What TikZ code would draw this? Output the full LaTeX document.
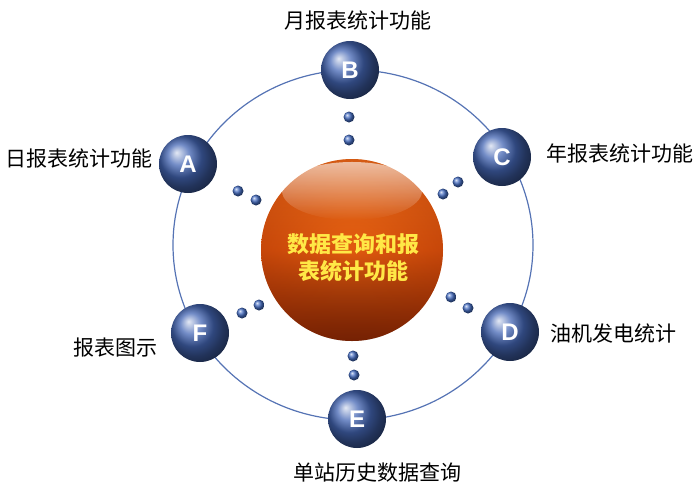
\documentclass[tikz,border=0pt]{standalone}
\usepackage{fontspec}
\setmainfont{Liberation Sans}
\newfontfamily\cjk{Noto Sans CJK SC}
\usetikzlibrary{fadings}
\definecolor{ringblue}{RGB}{85,115,180}
\definecolor{ballblue}{RGB}{68,102,180}
\definecolor{dotblue}{RGB}{70,110,195}
\definecolor{sphtop}{RGB}{245,120,30}
\definecolor{sphmid}{RGB}{225,90,15}
\definecolor{sphbot}{RGB}{100,32,5}
\definecolor{sphrim}{RGB}{150,35,0}
\definecolor{hubtext}{RGB}{255,232,70}
\tikzfading[name=rimfade, inner color=transparent!100, outer color=transparent!65]
\tikzset{
  letterball/.style={shape=circle, minimum size=58pt, inner sep=0pt, shading=ball, ball color=ballblue,
    text=white, font=\fontsize{24}{24}\selectfont\bfseries},
  dotball/.style={shape=circle, minimum size=11pt, inner sep=0pt, shading=ball, ball color=dotblue},
  lbl/.style={font=\cjk\fontsize{21}{21}\selectfont, inner sep=0pt},
}
\begin{document}
\begin{tikzpicture}[x=1pt,y=-1pt]
\useasboundingbox (0,0) rectangle (700,488);
\coordinate (mid) at (353,245);
% outer ring
\draw[ringblue, line width=1.2pt] (mid) ellipse [x radius=180, y radius=175];
% central sphere
\node[shape=circle, minimum size=182pt, inner sep=0pt, top color=sphtop, bottom color=sphbot, middle color=sphmid] (hub) at (352,250) {};
\fill[sphrim, path fading=rimfade] (hub) circle (91pt);
\fill[white, path fading=south, fill opacity=0.6] (352,191) ellipse [x radius=70, y radius=29];
\node[font=\cjk\fontsize{22}{27}\selectfont\bfseries, text=hubtext, align=center] (hubtxt) at (353,258) {数据查询和报\\表统计功能};
% dots
\node[dotball] (a1) at (238,191) {};
\node[dotball] (a2) at (256,200) {};
\node[dotball] (b1) at (349,117) {};
\node[dotball] (b2) at (349,140) {};
\node[dotball] (c1) at (458,182) {};
\node[dotball] (c2) at (443,194) {};
\node[dotball] (d1) at (451,297) {};
\node[dotball] (d2) at (468,308) {};
\node[dotball] (e1) at (353,356) {};
\node[dotball] (e2) at (354,375) {};
\node[dotball] (f1) at (259,305) {};
\node[dotball] (f2) at (242,313) {};
% letter balls
\node[letterball] (A) at (188,164) {A};
\node[letterball] (B) at (350,70) {B};
\node[letterball] (C) at (502,157) {C};
\node[letterball] (D) at (510,332) {D};
\node[letterball] (E) at (357,419) {E};
\node[letterball] (F) at (200,333) {F};
% labels
\node[lbl] (la) at (79,158) {日报表统计功能};
\node[lbl] (lb) at (358,20) {月报表统计功能};
\node[lbl] (lc) at (620,153) {年报表统计功能};
\node[lbl] (ld) at (613,333) {油机发电统计};
\node[lbl] (le) at (377,473) {单站历史数据查询};
\node[lbl] (lf) at (115,348) {报表图示};
\end{tikzpicture}
\end{document}
